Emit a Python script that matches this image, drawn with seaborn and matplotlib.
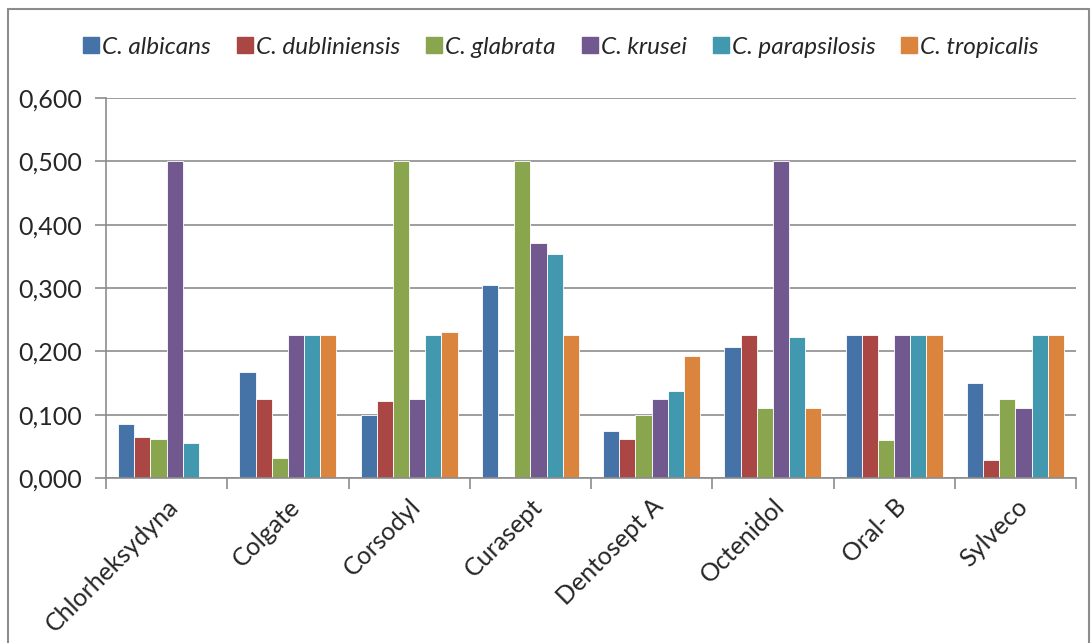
import pandas as pd
import numpy as np
import seaborn as sns
import matplotlib.pyplot as plt
from matplotlib.ticker import FuncFormatter, FixedLocator
from matplotlib.lines import Line2D

# categorie (prodotti) e specie
products = ["Chlorheksydyna", "Colgate", "Corsodyl", "Curasept",
            "Dentosept A", "Octenidol", "Oral- B", "Sylveco"]
species = ["C. albicans", "C. dubliniensis", "C. glabrata",
           "C. krusei", "C. parapsilosis", "C. tropicalis"]

# valori, un array per specie
albicans = [0.085, 0.167, 0.099, 0.304, 0.074, 0.207, 0.226, 0.150]
dubliniensis = [0.065, 0.124, 0.121, 0.0, 0.062, 0.226, 0.226, 0.029]
glabrata = [0.062, 0.031, 0.500, 0.500, 0.099, 0.110, 0.060, 0.124]
krusei = [0.500, 0.226, 0.124, 0.371, 0.124, 0.500, 0.226, 0.110]
parapsilosis = [0.056, 0.226, 0.226, 0.353, 0.138, 0.222, 0.226, 0.226]
tropicalis = [0.0, 0.226, 0.230, 0.226, 0.192, 0.110, 0.226, 0.226]

colors = ["#4572A7", "#AA4643", "#89A54E", "#71588F", "#4198AF", "#DB843D"]

series = [albicans, dubliniensis, glabrata, krusei, parapsilosis, tropicalis]
rows = []
for sp, vals in zip(species, series):
    for p, v in zip(products, vals):
        rows.append({"prodotto": p, "specie": sp, "valore": v})
df = pd.DataFrame(rows)

sns.set_style("white")
plt.rcParams['font.family'] = ['Lato', 'DejaVu Sans']

fig = plt.figure(figsize=(10.92, 6.43), dpi=100)
ax = fig.add_axes([106 / 1092, 1 - 478 / 643, 970 / 1092, 380 / 643])

sns.barplot(data=df, x="prodotto", y="valore", hue="specie", order=products,
            hue_order=species, palette=colors, saturation=1, width=0.8, ax=ax,
            edgecolor="white", linewidth=0.6, legend=False)

ax.set_xlim(-0.5, len(products) - 0.5)
ax.set_ylim(0, 0.6)
ax.set_yticks(np.arange(0, 0.61, 0.1))
ax.yaxis.set_major_formatter(FuncFormatter(lambda v, pos: f"{v:.3f}".replace(".", ",")))
ax.grid(axis="y", color="#8c8c8c", linewidth=1.2)
ax.set_axisbelow(True)
ax.set_xlabel("")
ax.set_ylabel("")

for s in ["top", "right"]:
    ax.spines[s].set_visible(False)
for s in ["left", "bottom"]:
    ax.spines[s].set_color("#8c8c8c")
    ax.spines[s].set_linewidth(1.2)

ax.tick_params(axis="y", which="major", length=8, color="#8c8c8c", width=1.2,
               labelsize=18, pad=9, left=True)
ax.set_xticks(range(len(products)))
ax.set_xticklabels(products, rotation=45, ha="right", rotation_mode="anchor", fontsize=18)
ax.tick_params(axis="x", which="major", length=0, pad=12)
ax.xaxis.set_minor_locator(FixedLocator(np.arange(-0.5, len(products), 1.0)))
ax.tick_params(axis="x", which="minor", length=8, color="#8c8c8c", width=1.2, bottom=True)

handles = [Line2D([0], [0], marker="s", linestyle="", markersize=12,
                  markerfacecolor=c, markeredgecolor=c) for c in colors]
fig.legend(handles, species, loc="center", bbox_to_anchor=(0.513, 1 - 47 / 643),
           ncol=6, frameon=False, prop={"style": "italic", "size": 17.5},
           handletextpad=0.05, columnspacing=1.0, handlelength=0.8)

# cornice del grafico
fig.add_artist(Line2D([8 / 1092, 8 / 1092], [0, 1 - 9 / 643], color="#8c8c8c", lw=1.5,
                      transform=fig.transFigure))
fig.add_artist(Line2D([8 / 1092, 1089 / 1092], [1 - 9 / 643, 1 - 9 / 643], color="#8c8c8c",
                      lw=1.5, transform=fig.transFigure))
fig.add_artist(Line2D([1089 / 1092, 1089 / 1092], [0, 1 - 9 / 643], color="#8c8c8c", lw=1.5,
                      transform=fig.transFigure))

plt.savefig("out.png", dpi=100)
